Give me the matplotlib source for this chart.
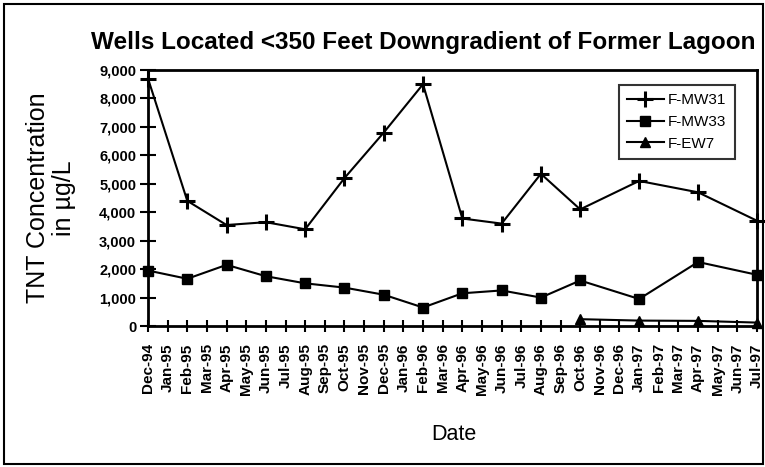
import matplotlib
matplotlib.use("Agg")
from matplotlib import pyplot as plt
from matplotlib.patches import Rectangle

plt.rcParams['font.family'] = ['Liberation Sans', 'DejaVu Sans']

months = ['Dec-94', 'Jan-95', 'Feb-95', 'Mar-95', 'Apr-95', 'May-95', 'Jun-95', 'Jul-95',
          'Aug-95', 'Sep-95', 'Oct-95', 'Nov-95', 'Dec-95', 'Jan-96', 'Feb-96', 'Mar-96',
          'Apr-96', 'May-96', 'Jun-96', 'Jul-96', 'Aug-96', 'Sep-96', 'Oct-96', 'Nov-96',
          'Dec-96', 'Jan-97', 'Feb-97', 'Mar-97', 'Apr-97', 'May-97', 'Jun-97', 'Jul-97']

# sampling dates
dates_mw = ['Dec-94', 'Feb-95', 'Apr-95', 'Jun-95', 'Aug-95', 'Oct-95', 'Dec-95', 'Feb-96',
            'Apr-96', 'Jun-96', 'Aug-96', 'Oct-96', 'Jan-97', 'Apr-97', 'Jul-97']
dates_ew = ['Oct-96', 'Jan-97', 'Apr-97', 'Jul-97']

mw31 = [8700, 4400, 3550, 3650, 3400, 5200, 6800, 8500, 3780, 3600, 5350, 4100, 5100, 4700, 3700]
mw33 = [1950, 1660, 2150, 1750, 1500, 1350, 1100, 650, 1150, 1250, 1000, 1600, 950, 2250, 1800]
ew7 = [240, 190, 180, 120]

yticks = [0, 1000, 2000, 3000, 4000, 5000, 6000, 7000, 8000, 9000]
ytick_labels = ['0', '1,000', '2,000', '3,000', '4,000', '5,000', '6,000', '7,000', '8,000', '9,000']

x_mw = [months.index(d) for d in dates_mw]
x_ew = [months.index(d) for d in dates_ew]

fig = plt.figure(figsize=(7.65, 4.67), dpi=100)
ax = fig.add_axes([148 / 765, 1 - 326 / 467, 609 / 765, 256 / 467])

ax.plot(x_mw, mw31, color='black', lw=1.5, marker='+', ms=11, mew=2.2, label='F-MW31', clip_on=False)
ax.plot(x_mw, mw33, color='black', lw=1.5, marker='s', ms=7, label='F-MW33', clip_on=False)
ax.plot(x_ew, ew7, color='black', lw=1.5, marker='^', ms=7.5, label='F-EW7', clip_on=False)

ax.set_xlim(0, len(months) - 1)
ax.set_ylim(0, 9000)
ax.set_xticks(range(len(months)))
ax.set_xticklabels(months, rotation=90, fontsize=11, fontweight='bold')
ax.set_yticks(yticks)
ax.set_yticklabels(ytick_labels, fontsize=10.5, fontweight='bold')
ax.tick_params(axis='y', direction='inout', length=11, width=1.5, pad=3)
ax.tick_params(axis='x', direction='inout', length=9, width=1.5, pad=8)
for s in ax.spines.values():
    s.set_linewidth(2)

fig.text(51 / 765, 1 - 198 / 467, 'TNT Concentration\nin µg/L', rotation=90,
         ha='center', va='center', fontsize=18, linespacing=1.1)

fig.text(423 / 765, 1 - 42 / 467, 'Wells Located <350 Feet Downgradient of Former Lagoon',
         ha='center', va='center', fontsize=17.5, fontweight='bold')
fig.text(454 / 765, 1 - 435 / 467, 'Date', ha='center', va='center', fontsize=15.5)

leg = ax.legend(loc='upper right', bbox_to_anchor=(735 / 765, 1 - 85 / 467),
                bbox_transform=fig.transFigure, fontsize=11, frameon=True, fancybox=False,
                edgecolor='black', handlelength=2.4, handletextpad=0.3, borderpad=0.55,
                labelspacing=0.5, borderaxespad=0)
leg.get_frame().set_linewidth(1.5)

fig.patches.append(Rectangle((4 / 765, 3 / 467), 759 / 765, 460 / 467, transform=fig.transFigure,
                             fill=False, edgecolor='black', lw=1.5))

fig.savefig('out.png', dpi=100)
